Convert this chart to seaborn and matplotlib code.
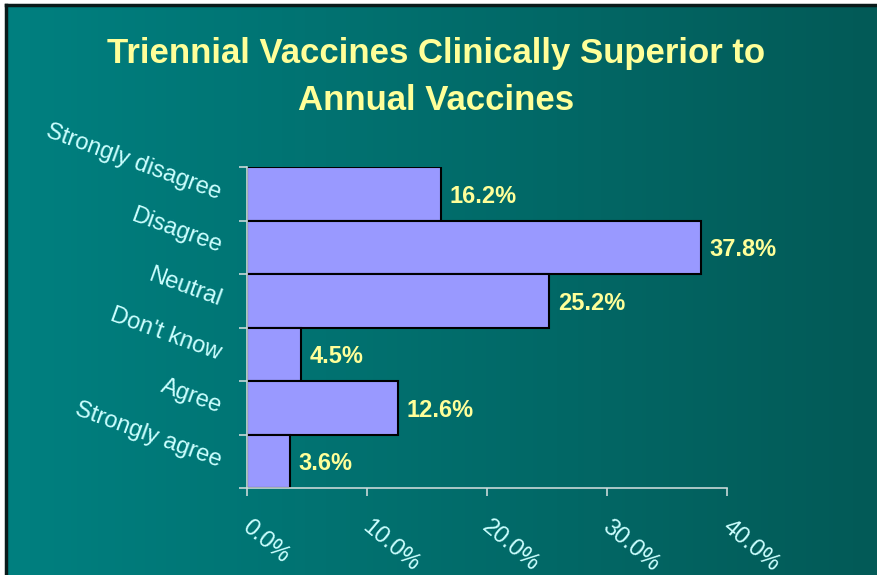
import numpy as np
import pandas as pd
import matplotlib
matplotlib.use("Agg")
import matplotlib.pyplot as plt
import matplotlib.transforms as mtransforms
import seaborn as sns
from matplotlib.colors import LinearSegmentedColormap

# chart data
categories = ["Strongly disagree", "Disagree", "Neutral", "Don't know", "Agree", "Strongly agree"]
percents = [16.2, 37.8, 25.2, 4.5, 12.6, 3.6]
x_ticks = [0, 10, 20, 30, 40]
x_tick_labels = ["0.0%", "10.0%", "20.0%", "30.0%", "40.0%"]

df = pd.DataFrame({"category": categories, "percent": percents})

sns.set_theme(style="white")
plt.rcParams["font.family"] = ["Liberation Sans", "DejaVu Sans"]

W, H = 877, 575
fig = plt.figure(figsize=(W / 100, H / 100), dpi=100, facecolor="white")

# gradient background with black left/top border
bg = fig.add_axes([6 / W, 0, 1 - 6 / W, 1 - 5 / H])
cmap = LinearSegmentedColormap.from_list("teal", ["#008080", "#035a57"])
bg.imshow(np.linspace(0, 1, 256).reshape(1, -1), aspect="auto", cmap=cmap,
          extent=[0, 1, 0, 1])
bg.set_xticks([])
bg.set_yticks([])
for side in ["right", "bottom"]:
    bg.spines[side].set_visible(False)
for side in ["left", "top"]:
    bg.spines[side].set_color("#0a1a1a")
    bg.spines[side].set_linewidth(2.5)

ax = fig.add_axes([247 / W, 1 - 488 / H, 480 / W, 321 / H])
ax.patch.set_alpha(0)
sns.barplot(data=df, x="percent", y="category", orient="h", color="#9999ff",
            width=1.0, edgecolor="black", linewidth=1.5, saturation=1, ax=ax)

ax.set_xlim(0, 40)
ax.set_ylim(5.5, -0.5)
ax.set_xlabel("")
ax.set_ylabel("")

# y tick marks at category boundaries, labels at centres
ax.set_yticks(np.arange(-0.5, len(categories), 1.0))
ax.set_yticklabels([])
ax.set_yticks(np.arange(len(categories)), minor=True)
ax.set_yticklabels(categories, minor=True, rotation=-20, rotation_mode="anchor",
                   ha="right", va="center", fontsize=17, color="#ccffff")
ax.tick_params(axis="y", which="major", left=True, length=6, width=1.2, color="#c8d8d8")
ax.tick_params(axis="y", which="minor", left=False, length=0, pad=19)

ax.set_xticks(x_ticks)
ax.set_xticklabels(x_tick_labels, rotation=-40, rotation_mode="anchor",
                   ha="left", va="center", fontsize=17, color="#ccffff")
ax.tick_params(axis="x", bottom=True, length=6, width=1.2, color="#c8d8d8", pad=20)
shift = mtransforms.ScaledTranslation(-2 / 100, 0, fig.dpi_scale_trans)
for lab in ax.get_xticklabels():
    lab.set_transform(lab.get_transform() + shift)

for side in ["top", "right"]:
    ax.spines[side].set_visible(False)
for side in ["left", "bottom"]:
    ax.spines[side].set_color("#c8d8d8")
    ax.spines[side].set_linewidth(1.2)

# value labels
for i, v in enumerate(percents):
    ax.text(v + 0.7, i + 0.05, f"{v:.1f}%", ha="left", va="center",
            fontsize=17, fontweight="bold", color="#ffff99")

fig.text(0.497, 1 - 77 / H, "Triennial Vaccines Clinically Superior to\nAnnual Vaccines",
         ha="center", va="center", fontsize=25, fontweight="bold", color="#ffff99",
         linespacing=1.55)

fig.savefig("out.png", dpi=100, facecolor="white")
